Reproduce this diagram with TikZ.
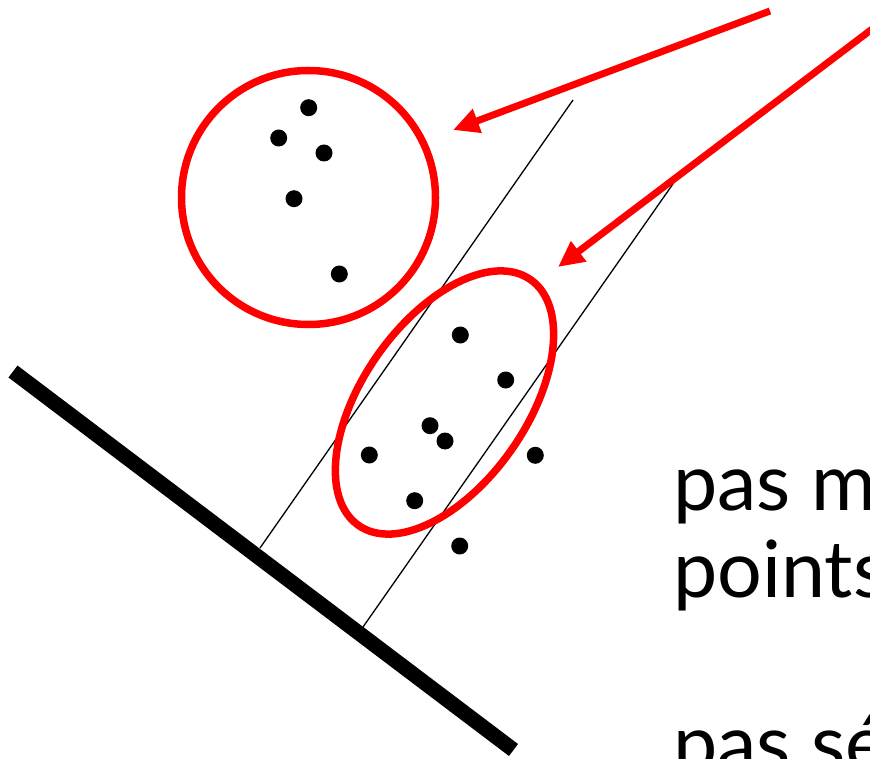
\documentclass[tikz,border=0pt]{standalone}
\usepackage{fontspec}
\setmainfont{Lato}
\usepackage{tikz}
\usetikzlibrary{arrows.meta, shapes.geometric}
\definecolor{ptRed}{HTML}{FF0000}
\tikzset{
  pt/.style={
    circle, fill=black,
    inner sep=0pt, minimum size=17pt
  },
  cluster/.style={
    draw=ptRed, line width=7.5pt,
    inner sep=0pt
  },
  projline/.style={black, line width=1.3pt},
  axisline/.style={black, line width=15pt},
  pointer/.style={
    -{Triangle[length=26pt, width=24pt]},
    ptRed, line width=7pt
  },
  caption/.style={
    anchor=base west, inner sep=0pt,
    font=\fontsize{79}{87}\selectfont
  }
}

\begin{document}
\begin{tikzpicture}[x=1pt, y=-1pt]
      \path[use as bounding box, clip] (0, 0) rectangle (870, 759);
      \coordinate (axisL) at (13, 371.5);
      \coordinate (axisR) at (513.5, 750);
      \coordinate (projAtop) at (573, 100);
      \coordinate (projAbot) at (260, 548);
      \coordinate (projBtop) at (675, 181);
      \coordinate (projBbot) at (363, 627);
      \coordinate (srcA) at (770, 11);
      \coordinate (tipA) at (453, 130);
      \coordinate (srcB) at (890, 15.5);
      \coordinate (tipB) at (558, 267);
      \draw[axisline] (axisL) -- (axisR);
      \draw[projline] (projAtop) -- (projAbot);
      \draw[projline] (projBtop) -- (projBbot);
      \node[cluster, circle, minimum size=254pt] (clusterA) at (308.5, 197.5) {};
      \node[cluster, ellipse, minimum width=300pt, minimum height=164pt, rotate=55] (clusterB) at (444.5, 402.5) {};
      \foreach \px/\py [count=\i] in {308.7/107.7, 278.7/138, 324/153, 294/198.7, 339.3/274,
          460.3/335, 505.7/380, 430/425.7, 445/441, 369.3/455, 535.3/455.3, 414.7/500.7, 459.7/546}
        \node[pt] (p\i) at (\px, \py) {};
      \draw[pointer] (srcA) -- (tipA);
      \draw[pointer] (srcB) -- (tipB);
      \node[caption] (txtA) at (673, 510) {pas ma};
      \node[caption] (txtB) at (673, 597) {points};
      \node[caption] (txtC) at (673, 771) {pas sé};
    \end{tikzpicture}
\end{document}
